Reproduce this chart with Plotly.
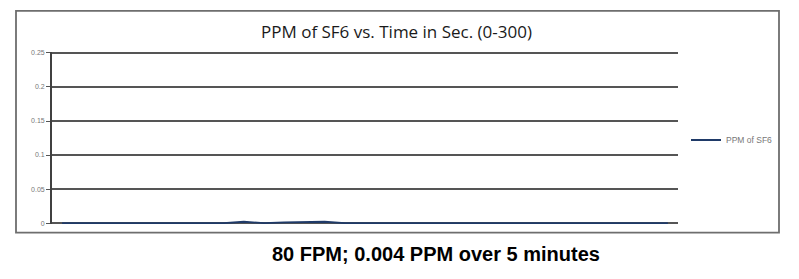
import plotly.graph_objects as go

W, H = 799, 279

time_sec = [0, 10, 20, 30, 40, 50, 60, 70, 80, 90, 100, 110, 120, 130, 140, 150,
            160, 170, 180, 190, 200, 210, 220, 230, 240, 250, 260, 270, 280, 290, 300]
ppm_sf6 = [0, 0, 0, 0, 0, 0, 0, 0, 0, 0.002, 0, 0.001, 0.002, 0.002, 0, 0,
           0, 0, 0.001, 0, 0, 0, 0, 0, 0, 0, 0, 0, 0, 0, 0]
y_ticks = [0, 0.05, 0.1, 0.15, 0.2, 0.25]
y_tick_labels = ["0", "0.05", "0.1", "0.15", "0.2", "0.25"]

def px(x):
    return x / W

def py(y):
    return 1 - y / H

fig = go.Figure()
fig.add_trace(go.Scatter(
    x=time_sec, y=ppm_sf6, mode="lines", name="PPM of SF6",
    line=dict(color="#1f3a68", width=1.8),
))

fig.update_layout(
    width=W, height=H,
    margin=dict(l=0, r=0, t=0, b=0),
    paper_bgcolor="white", plot_bgcolor="white",
    showlegend=True,
    legend=dict(x=px(686), y=py(140), xanchor="left", yanchor="middle",
                font=dict(size=8.5, color="#777777", family="Liberation Sans"),
                bgcolor="rgba(0,0,0,0)", borderwidth=0),
    xaxis=dict(domain=[px(52), px(678)], range=[-5, 305],
               showgrid=False, zeroline=False, showticklabels=False,
               showline=False, ticks=""),
    yaxis=dict(domain=[py(225.7), py(50.3)], range=[-0.002, 0.252],
               tickvals=y_ticks, ticktext=y_tick_labels,
               tickfont=dict(size=7, color="#777777", family="Liberation Sans"),
               ticks="outside", ticklen=4, tickcolor="#555555", tickwidth=1,
               showgrid=True, gridcolor="#555555", gridwidth=1.6,
               zeroline=False, showline=True, linecolor="#404040", linewidth=1.8),
    shapes=[dict(type="rect", xref="paper", yref="paper",
                 x0=px(16), x1=px(779), y0=py(234), y1=py(9),
                 line=dict(color="#6e6e6e", width=1.8), layer="above")],
    annotations=[
        dict(text="PPM of SF6 vs. Time in Sec. (0-300)", xref="paper", yref="paper",
             x=px(396), y=py(30), xanchor="center", yanchor="middle", showarrow=False,
             font=dict(size=17, color="#1a1a1a", family="Open Sans")),
        dict(text="<b>80 FPM; 0.004 PPM over 5 minutes</b>", xref="paper", yref="paper",
             x=px(436), y=py(256), xanchor="center", yanchor="middle", showarrow=False,
             font=dict(size=20, color="#000000", family="Liberation Sans")),
    ],
)

fig.write_html("out.html")
